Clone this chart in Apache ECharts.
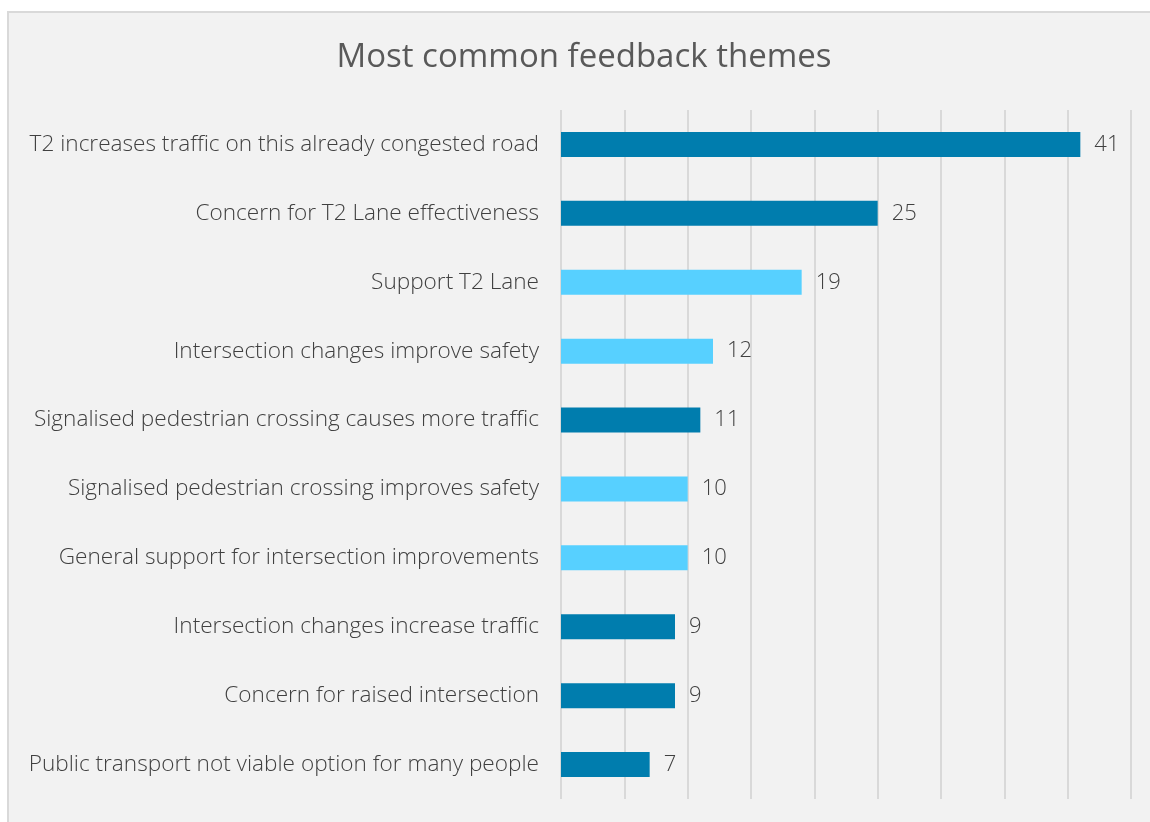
<!DOCTYPE html>
<html>
<head>
<meta charset="utf-8">
<script src="https://cdn.jsdelivr.net/npm/echarts@6/dist/echarts.min.js"></script>
<style>
  html, body { margin: 0; padding: 0; background: #ffffff; }
  #frame { position: absolute; left: 7px; top: 11px; width: 1160px; height: 830px;
           background: #f2f2f2; border-left: 2px solid #d9d9d9; border-top: 2px solid #d9d9d9; }
  #chart { position: absolute; left: 0; top: 0; width: 1150px; height: 822px; }
</style>
</head>
<body>
<div id="frame"></div>
<div id="chart"></div>
<script>
const categories = [
  'T2 increases traffic on this already congested road',
  'Concern for T2 Lane effectiveness',
  'Support T2 Lane',
  'Intersection changes improve safety',
  'Signalised pedestrian crossing causes more traffic',
  'Signalised pedestrian crossing improves safety',
  'General support for intersection improvements',
  'Intersection changes increase traffic',
  'Concern for raised intersection',
  'Public transport not viable option for many people'
];
const counts = [41, 25, 19, 12, 11, 10, 10, 9, 9, 7];
const themeType = ['concern','concern','support','support','concern','support','support','concern','concern','concern'];
const xTicks = [0, 5, 10, 15, 20, 25, 30, 35, 40, 45];

const typeColor = { concern: '#007dae', support: '#57d0ff' };
const FONT = '"Open Sans", sans-serif';

const chart = echarts.init(document.getElementById('chart'), null, { renderer: 'canvas' });
chart.setOption({
  backgroundColor: 'transparent',
  animation: false,
  title: {
    text: 'Most common feedback themes',
    left: 579,
    textAlign: 'center',
    top: 36,
    textStyle: { fontFamily: FONT, fontSize: 33, fontWeight: 400, color: '#595959' }
  },
  grid: { left: 561, right: 19, top: 110, bottom: 23, containLabel: false },
  xAxis: {
    type: 'value',
    min: xTicks[0],
    max: xTicks[xTicks.length - 1],
    interval: 5,
    axisLine: { show: false },
    axisTick: { show: false },
    axisLabel: { show: false },
    splitLine: { show: true, lineStyle: { color: '#d9d9d9', width: 2 } }
  },
  yAxis: {
    type: 'category',
    data: categories,
    inverse: true,
    axisLine: { show: false },
    axisTick: { show: false },
    axisLabel: { margin: 22, fontFamily: FONT, fontSize: 22.6, fontWeight: 300, color: '#404040', padding: [4, 0, 0, 0] }
  },
  series: [{
    type: 'bar',
    barWidth: 25,
    data: counts.map((v, i) => ({ value: v, itemStyle: { color: typeColor[themeType[i]] } })),
    label: {
      show: true,
      position: 'right',
      distance: 14,
      fontFamily: FONT,
      fontSize: 22,
      fontWeight: 300,
      color: '#404040',
      padding: [4, 0, 0, 0]
    }
  }]
});
</script>
</body>
</html>
